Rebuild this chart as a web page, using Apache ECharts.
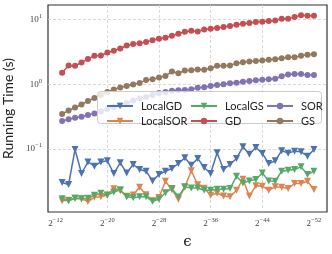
<!DOCTYPE html>
<html>
<head>
<meta charset="utf-8">
<script src="https://cdn.jsdelivr.net/npm/echarts@6/dist/echarts.min.js"></script>
<style>html,body{margin:0;padding:0;background:#fff}#c{width:332px;height:254px}</style>
</head>
<body>
<div id="c"></div>
<script>
// epsilon = 2^exp
const epsExp = [-13,-14,-15,-16,-17,-18,-19,-20,-21,-22,-23,-24,-25,-26,-27,-28,-29,-30,-31,-32,-33,-34,-35,-36,-37,-38,-39,-40,-41,-42,-43,-44,-45,-46,-47,-48,-49,-50,-51,-52];
const xTickExp = [-12,-20,-28,-36,-44,-52];

const localGD = [0.0305,0.0284,0.0989,0.0420,0.0635,0.0545,0.0635,0.0659,0.0420,0.0614,0.0429,0.0579,0.0484,0.0456,0.0323,0.0405,0.0456,0.0502,0.0600,0.0733,0.0565,0.0718,0.0520,0.0420,0.0877,0.0484,0.0579,0.0718,0.1086,0.0836,0.1062,0.0858,0.0600,0.0659,0.0948,0.0867,0.0931,0.0908,0.0778,0.0989];
const localSOR = [0.0159,0.0162,0.0174,0.0171,0.01545,0.0180,0.0184,0.0196,0.0244,0.0228,0.0187,0.0196,0.0258,0.0197,0.0159,0.0179,0.0319,0.0236,0.0168,0.0258,0.0464,0.0282,0.0249,0.0194,0.0208,0.0189,0.0184,0.0231,0.0343,0.0189,0.0272,0.0267,0.0231,0.0261,0.0258,0.0246,0.0294,0.0294,0.0319,0.0237];
const localGS = [0.0171,0.0159,0.0174,0.0171,0.0174,0.0194,0.0208,0.0194,0.0218,0.0236,0.0184,0.0177,0.0184,0.0184,0.0156,0.0168,0.0212,0.0246,0.0182,0.0261,0.0251,0.0251,0.0231,0.0231,0.0240,0.0240,0.0246,0.0381,0.0300,0.0323,0.0339,0.0429,0.0323,0.0319,0.0456,0.0472,0.0484,0.0532,0.0405,0.0456];
const gd = [1.52,1.96,1.94,2.18,2.48,2.77,2.80,3.11,3.31,3.59,4.00,4.20,4.35,4.51,4.84,5.07,5.26,5.65,6.07,6.52,6.75,6.59,7.08,7.25,7.43,7.71,7.98,8.36,8.66,8.89,9.21,9.31,9.55,9.75,10.4,10.4,11.0,11.7,11.5,11.5];
const sor = [0.272,0.289,0.305,0.317,0.337,0.357,0.381,0.417,0.448,0.481,0.516,0.565,0.607,0.640,0.687,0.738,0.766,0.802,0.813,0.822,0.843,0.892,0.905,0.948,0.982,1.007,1.044,1.066,1.105,1.133,1.161,1.186,1.208,1.225,1.34,1.42,1.445,1.445,1.40,1.40];
const gs = [0.349,0.395,0.440,0.490,0.555,0.618,0.687,0.766,0.836,0.898,0.948,1.00,1.055,1.175,1.205,1.275,1.355,1.58,1.49,1.64,1.66,1.70,1.68,1.78,1.94,1.94,1.96,2.13,2.21,2.26,2.31,2.34,2.40,2.46,2.55,2.64,2.64,2.77,2.87,2.94];

const seriesNames = ['LocalGD','LocalSOR','LocalGS','GD','SOR','GS'];
const seriesValues = [localGD, localSOR, localGS, gd, sor, gs];
const seriesColors = ['#4C72B0','#DD8452','#55A868','#C44E52','#8172B3','#937860'];
const seriesMarkers = ['triangle','triangle','triangle','circle','circle','circle'];

const chart = echarts.init(document.getElementById('c'), null, {renderer: 'canvas'});

const series = seriesNames.map((name, si) => ({
  name: name,
  type: 'line',
  data: epsExp.map((e, i) => [e, seriesValues[si][i]]),
  symbol: seriesMarkers[si],
  symbolSize: seriesMarkers[si] === 'triangle' ? 7 : 6,
  symbolRotate: seriesMarkers[si] === 'triangle' ? 180 : 0,
  showAllSymbol: true,
  lineStyle: {width: 1.5, color: seriesColors[si]},
  itemStyle: {color: seriesColors[si]},
  emphasis: {disabled: true},
  animation: false,
  z: 2
}));

const legendCommon = {
  orient: 'vertical',
  top: 94.5,
  itemWidth: 26,
  itemHeight: 8,
  itemGap: 2,
  textStyle: {fontFamily: 'Lato', fontSize: 11, color: '#222', lineHeight: 13, padding: [0,0,0,3]},
  z: 20,
  selectedMode: false
};

const supRich = {
  b: {fontFamily: 'Liberation Serif', fontSize: 9, color: '#444'},
  s: {fontFamily: 'Liberation Serif', fontSize: 6.5, color: '#444', padding: [0,0,7,0]}
};

chart.setOption({
  backgroundColor: '#fff',
  animation: false,
  grid: {left: 48, top: 5, right: 5, bottom: 42, show: true, borderColor: '#333', borderWidth: 1.2, backgroundColor: 'transparent', containLabel: false, outerBoundsMode: 'none'},
  xAxis: {
    type: 'value',
    inverse: true,
    min: -54.02,
    max: -10.81,
    axisLine: {show: false},
    axisTick: {show: false, customValues: xTickExp},
    splitLine: {show: true, showMinLine: false, showMaxLine: false, lineStyle: {color: '#cfcfcf', type: [3, 2], width: 0.8}},
    axisLabel: {
      customValues: xTickExp,
      margin: 5,
      formatter: v => '{b|2}{s|\u2212' + Math.abs(Math.round(v)) + '}',
      rich: supRich
    },
    name: '\u03F5',
    nameLocation: 'middle',
    nameGap: 23,
    nameTextStyle: {fontFamily: 'DejaVu Serif', fontSize: 15, color: '#222'}
  },
  yAxis: {
    type: 'log',
    logBase: 10,
    min: 0.01067,
    max: 16.9,
    axisLine: {show: false},
    axisTick: {show: false},
    minorTick: {show: false},
    splitLine: {show: true, showMinLine: false, showMaxLine: false, lineStyle: {color: '#cfcfcf', type: [3, 2], width: 0.8}},
    axisLabel: {
      margin: 6,
      showMinLabel: true,
      showMaxLabel: true,
      formatter: v => {
        const l = Math.log10(v);
        const r = Math.round(l);
        if (Math.abs(l - r) > 1e-6) return '';
        return '{b|10}{s|' + (r < 0 ? '\u2212' + (-r) : r) + '}';
      },
      rich: supRich
    },
    name: 'Running Time (s)',
    nameLocation: 'middle',
    nameGap: 27,
    nameTextStyle: {fontFamily: 'Lato', fontSize: 14, color: '#222'}
  },
  legend: [
    Object.assign({}, legendCommon, {left: 101, data: ['LocalGD', 'LocalSOR']}),
    Object.assign({}, legendCommon, {left: 185, data: ['LocalGS', 'GD']}),
    Object.assign({}, legendCommon, {left: 261, data: ['SOR', 'GS']})
  ],
  graphic: [{
    type: 'rect',
    z: 10,
    shape: {x: 97.5, y: 91.5, width: 224, height: 32, r: 3},
    style: {fill: 'rgba(255,255,255,0.8)', stroke: '#cccccc', lineWidth: 1}
  }],
  series: series
});
</script>
</body>
</html>
